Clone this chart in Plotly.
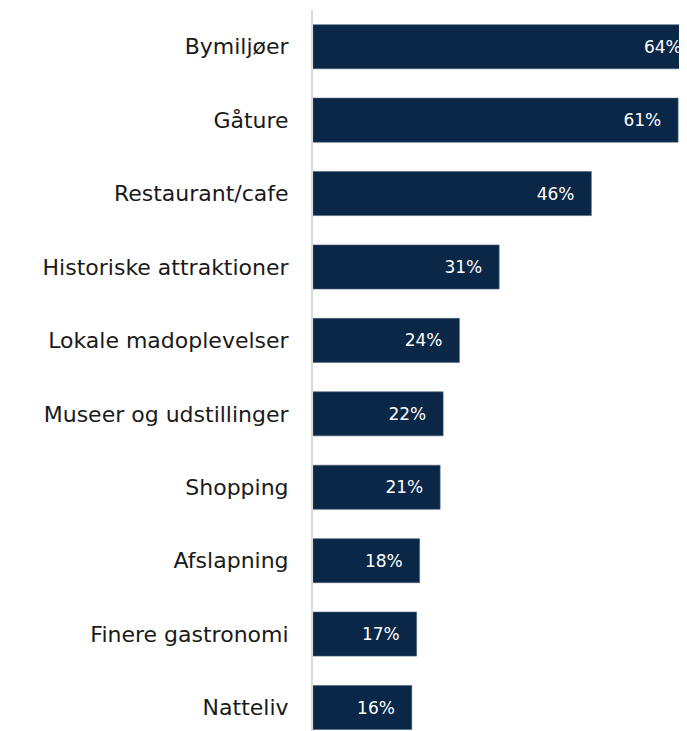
import plotly.graph_objects as go

categories = ["Bymiljøer", "Gåture", "Restaurant/cafe", "Historiske attraktioner",
              "Lokale madoplevelser", "Museer og udstillinger", "Shopping",
              "Afslapning", "Finere gastronomi", "Natteliv"]
values = [64.0, 60.6, 46.2, 30.9, 24.3, 21.6, 21.1, 17.7, 17.2, 16.4]
labels = [f"{round(v)}%" for v in values]

BAR = "#0B2747"
FONT = "DejaVu Sans"

fig = go.Figure(go.Bar(
    x=values, y=categories, orientation="h",
    marker=dict(color=BAR, line=dict(color="#4a5f78", width=0.6)),
    text=[t + "\u2002\u00a0" for t in labels],
    textposition="inside", insidetextanchor="end",
    textfont=dict(color="white", size=17, family=FONT),
    cliponaxis=True,
))

fig.update_layout(
    width=671, height=723,
    margin=dict(l=305, r=0, t=2, b=0),
    paper_bgcolor="white", plot_bgcolor="white",
    bargap=0.4, showlegend=False,
    font=dict(family=FONT, color="#1a1a1a"),
)
fig.update_xaxes(range=[0, 60.75], visible=False, fixedrange=True)
fig.update_yaxes(
    range=[9.32, -0.5], type="category",
    showline=True, linecolor="#d9d9d9", linewidth=2,
    showgrid=False, zeroline=False, ticks="",
    ticklabelstandoff=18,
    tickfont=dict(size=22, family=FONT, color="#1a1a1a"),
)

fig.write_html("out.html", config={"displayModeBar": False})
